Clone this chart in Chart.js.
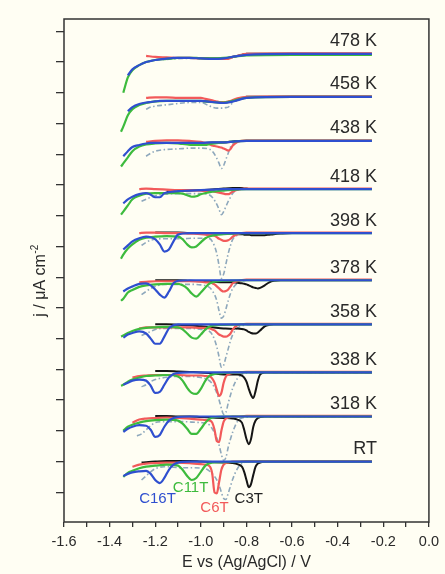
<!DOCTYPE html>
<html><head><meta charset="utf-8">
<script src="https://cdn.jsdelivr.net/npm/chart.js@4/dist/chart.umd.min.js"></script>
<style>html,body{margin:0;padding:0;background:#fffef3;}#wrap{width:445px;height:574px;position:relative;}</style>
</head><body><div id="wrap"><canvas id="c"></canvas></div>
<script>
// ---------- DATA ----------
const temperatures = ['RT','318 K','338 K','358 K','378 K','398 K','418 K','438 K','458 K','478 K'];
const offsets = [60,104,147,194,237,283,326,373,416,458]; // baseline of each stacked voltammogram
const xTickValues = [-1.6,-1.5,-1.4,-1.3,-1.2,-1.1,-1.0,-0.9,-0.8,-0.7,-0.6,-0.5,-0.4,-0.3,-0.2,-0.1,0.0];
const xTickLabels = ['-1.6','-1.4','-1.2','-1.0','-0.8','-0.6','-0.4','-0.2','0.0'];
const yTickValues = [30,60,90,120,150,180,210,240,270,300,330,360,390,420,450,480];

// C16T (blue)
const eC16T = [-1.34,-1.32,-1.30,-1.27,-1.24,-1.22,-1.20,-1.18,-1.16,-1.14,-1.12,-1.10,-1.05,-1.00,-0.95,-0.90,-0.85,-0.80,-0.60,-0.40,-0.25];
const jC16T = [
 [-14,-12,-10.5,-9.5,-9,-12,-18,-21,-16,-8,-3,-1,0,0,0,0,0,0,0,0,0],
 [-15,-12,-10,-8.5,-9,-13,-20,-18,-10,-4,-1.5,-0.5,0,0,0,0,0,0,0,0,0],
 [-12,-10,-8,-7,-8,-13,-20,-19,-12,-5,-1.5,-0.5,0,0,0,0,0,0,0,0,0],
 [-13,-10,-8.5,-7,-9,-14,-19,-19,-12,-4,-1,0,0,0,0,0,0,0,0,0,0],
 [-11,-8,-6,-3.5,-3,-5,-9,-14,-17,-11,-3,-0.5,0,0,0,0,0,0,0,0,0],
 [-16,-12,-8,-5,-3.5,-4,-6,-11,-18,-16,-8,-1.5,0,0,0,0,0,0,0,0,0],
 [-14,-10,-7.5,-5,-4,-5.5,-8,-8,-4,-3,-2.5,-2,-1.5,-1,-0.5,0,0,0,0,0,0],
 [-15,-10,-6,-4,-2.5,-2,-2,-2,-2,-2,-2,-2,-2,-2,-1.5,-1.5,-0.5,0,0,0,0],
 [null,-14,-10,-7,-5.5,-5,-4.5,-4,-4,-4,-4,-4,-4,-4,-5,-6,-4,-1,0,0,0],
 [null,-21,-15,-11,-8,-7,-6,-5.5,-5,-4.5,-4,-4,-4,-4.5,-5,-4.5,-2.5,-1,0,0,0]
];
// C11T (green)
const eC11T = [-1.35,-1.34,-1.32,-1.30,-1.27,-1.24,-1.20,-1.15,-1.10,-1.08,-1.06,-1.04,-1.02,-1.00,-0.98,-0.96,-0.90,-0.80,-0.60,-0.40,-0.25];
const jC11T = [
 [null,-15,-11,-9,-6.5,-5,-4,-3,-4,-8,-14,-18,-16,-10,-4,-1.5,-0.5,0,0,0,0],
 [null,-14,-10,-8,-6,-4.5,-3.5,-3,-4,-7,-12,-17,-17,-12,-6,-2,0,0,0,0,0],
 [-13,-12,-9,-7,-5,-3.5,-3,-2.5,-4,-8,-15,-20,-21,-16,-8,-3,-0.5,0,0,0,0],
 [-12,-11,-8.5,-6.5,-4.5,-3.5,-3,-2.5,-3,-5,-9,-13,-14,-10,-5,-2,-0.5,0,0,0,0],
 [-20,-18,-12,-9.5,-6.5,-5,-4,-3.5,-3.5,-5,-8,-13,-16,-12,-7,-3,-0.5,0,0,0,0],
 [-25,-21,-15,-11,-6.5,-4.5,-3.5,-3,-3.5,-6,-11,-14,-13,-9,-5,-3,-1,0,0,0,0],
 [-25,-22,-16,-10,-6.5,-4.5,-4,-4,-4,-4.5,-6,-7.5,-7,-5,-4,-3,-1.5,0,0,0,0],
 [-25,-22,-16,-10,-5.5,-3.5,-2.5,-2,-2.5,-3,-3.5,-4,-4,-4,-4,-3,-1.5,0,0,0,0],
 [-34,-29,-18,-12,-8,-6,-4.5,-4,-4,-4,-4,-4,-4,-4,-4.5,-5,-5.5,-1,0,0,0],
 [null,-38,-23,-16,-11,-8,-6,-5,-4,-4,-4,-4,-4,-4.5,-4.5,-4.5,-4,-1.5,-1,-1,-1]
];
// C6T (red)
const eC6T = [-1.30,-1.27,-1.24,-1.20,-1.15,-1.10,-1.05,-1.00,-0.98,-0.96,-0.95,-0.94,-0.93,-0.92,-0.91,-0.90,-0.89,-0.88,-0.87,-0.86,-0.84,-0.80,-0.60,-0.40,-0.25];
const jC6T = [
 [-5,-3,-2,-1.5,-1,-1,-1.5,-2.5,-3,-5,-12,-30,-31,-20,-8,-3,-1.5,-1,-0.5,0,0,0.5,0.5,0.5,0.5],
 [-6,-3,-2,-1.5,-1,-1.5,-2,-3,-3.5,-4,-6,-13,-24,-25,-14,-5,-2,-1,-0.5,0,0,0.5,0.5,0.5,0.5],
 [-5,-3.5,-3,-2.5,-2.5,-2.5,-3,-3,-3.5,-4,-6,-10,-17,-23,-20,-10,-4,-2,-1,-0.5,0,0.5,0.5,0.5,0.5],
 [null,-4,-3,-3,-3,-3,-3,-3.5,-3.5,-4,-5,-6,-8,-10,-11,-12,-12,-11,-9,-5,-1,0.5,0.5,0.5,0.5],
 [null,-2,-1.5,-1,-1,-1,-1,-1.5,-2,-2,-3,-4,-6,-8,-10,-11,-10.5,-9,-6,-3,-1,0.5,0.5,0.5,0.5],
 [null,0,0.5,0.5,0,0,-0.5,-1,-1.5,-2,-2,-2.5,-4,-5.5,-6.5,-7.5,-7.5,-7,-5.5,-3.5,-1,0.5,0.5,0.5,0.5],
 [null,0,0.5,0,-0.5,-1,-1,-1.5,-2,-2,-2,-2.5,-3,-3.5,-4,-4.5,-5,-5,-4,-2.5,-0.5,0.5,0.5,0.5,0.5],
 [null,null,-1,0,0.5,0.5,0,-1,-2,-3.5,-4.5,-5,-5.5,-6,-6.5,-7.5,-8.5,-9.5,-8,-4.5,-1,0.5,0.5,0.5,0.5],
 [null,null,-1,-0.5,-0.5,-1,-1,-1,-2,-3,-3.5,-4,-4.5,-5,-5,-5,-5,-4.5,-4,-3,-1.5,0,0.5,0.5,0.5],
 [null,null,-2,-3,-3.5,-4,-4,-4.5,-4.5,-5,-5,-5,-5,-5,-5,-5,-5,-5,-4,-3,-2,0,0.5,0.5,0.5]
];
// C3T (black)
const eC3T = [-1.26,-1.20,-1.15,-1.10,-1.05,-1.00,-0.95,-0.90,-0.86,-0.84,-0.82,-0.81,-0.80,-0.79,-0.78,-0.77,-0.76,-0.75,-0.74,-0.72,-0.70,-0.68,-0.65,-0.60,-0.50,-0.40,-0.25];
const jC3T = [
 [-1,0,0.5,0.5,0.5,0,-0.5,-1,-1.5,-2.5,-5,-10,-18,-25,-22,-13,-5,-2,-1,0,0,0,0,0,0,0,0],
 [null,0.5,0.5,0,0,-0.5,-1,-1.5,-2,-3,-6,-13,-22,-27,-22,-10,-4,-1.5,-0.5,0,0,0,0,0,0,0,0],
 [null,1.5,1.5,1,0.5,0,-1,-2,-2,-2,-3,-5,-9,-16,-22,-25,-18,-8,-2,0,0,0,0,0,0,0,0],
 [null,0,0,-0.5,-1,-2,-3,-4,-4.5,-4,-4.5,-5,-6,-7.5,-8.5,-9,-9,-8,-6,-2,-0.5,0,0,0,0,0,0],
 [null,0,0,0,-0.5,-1,-1.5,-2,-2,-2.5,-3,-3.5,-4,-5,-6,-7,-7.5,-8,-7.5,-5,-2,-0.5,0,0,0,0,0],
 [null,0.5,0.5,0.5,0,0,-0.5,-0.5,-0.5,-1,-1,-1.5,-1.5,-1.5,-2,-2,-2,-2,-2,-2,-1.5,-1,-0.5,0,0,0,0],
 [null,null,-2.5,-2,-1.5,-1,-0.5,0.5,1,1,1,0.5,0.5,0,0,0,0,0,0,0,0,0,0,0,0,0,0],
 [null,null,null,-2,-2,-2,-1.5,-1.5,-0.5,0,0,0,0,0,0,0,0,0,0,0,0,0,0,0,0,0,0],
 [null,null,null,-4,-4,-4,-4.5,-5.5,-4,-3,-1.5,-1,0,0,0,0,0,0,0,0,0,0,0,0,0,0,0],
 [null,null,null,-4,-4,-4,-4.5,-4.5,-3,-2,-1,-0.5,0,0,0,0,0,0,0,0,0,0,0,0,0,0,0]
];
// reference trace (grey dash-dot)
const eRef = [-1.28,-1.26,-1.24,-1.22,-1.20,-1.16,-1.12,-1.08,-1.04,-1.00,-0.97,-0.95,-0.93,-0.92,-0.91,-0.90,-0.89,-0.88,-0.87,-0.86,-0.84,-0.82,-0.80,-0.75,-0.70,-0.60,-0.50,-0.40,-0.25];
const jRef = [
 [null,-18,-14,-10,-7,-5,-5.5,-6,-6,-6.5,-8,-12,-18,-23,-30,-36,-37,-31,-24,-17,-7,-2,-0.5,0,0,0,0,0,0],
 [-19,-17,-13,-9,-6,-5,-5,-5,-5.5,-6,-7,-12,-21,-28,-37,-43,-40,-30,-22,-15,-5,-1.5,-0.5,0,0,0,0,0,0],
 [null,-14,-12,-9,-7,-5,-4,-4,-4,-5,-7,-11,-20,-27,-35,-41,-39,-30,-22,-15,-6,-2,-0.5,0,0,0,0,0,0],
 [null,-11,-9,-7,-5,-4,-4,-4,-4,-5,-6,-10,-22,-32,-42,-40,-32,-24,-16,-10,-4,-1.5,-0.5,0,0,0,0,0,0],
 [null,-14,-11,-8,-6,-4,-4,-4,-4,-4.5,-6,-10,-20,-30,-37,-35,-28,-20,-13,-8,-3,-1,0,0,0,0,0,0,0],
 [null,-12,-9,-7,-6,-5.5,-5.5,-5.5,-5,-5,-5,-8,-20,-32,-44,-40,-30,-20,-12,-6,-2,-0.5,0,0,0,0,0,0,0],
 [null,-12,-10,-8,-6.5,-5,-4.5,-4.5,-4.5,-4.5,-5,-8,-15,-20,-25,-22,-17,-12,-8,-4,-1,0,0,0,0,0,0,0,0],
 [null,null,-15,-12,-10,-8.5,-8,-7.5,-7,-7,-7.5,-10,-17,-22,-27,-24,-18,-12,-6,-3,-1,0,0,0,0,0,0,0,0],
 [null,null,-12,-10,-9,-8,-7,-6,-5.5,-5.5,-8,-10,-11,-11,-11,-11,-10.5,-10,-8,-5.5,-2.5,-1,0,0,0,0,0,0,0],
 [null,null,null,null,-6,-5.5,-5,-4.5,-4.5,-4.5,-5,-5,-5,-5,-5,-5,-5,-4.5,-4,-3.5,-2,-1,0,0,0,0,0,0,0]
];

// ---------- CHART ----------
const FONT = '"Liberation Sans", Arial, sans-serif';
const series = [
  {name:'C16T', e:eC16T, j:jC16T, color:'#2f4fcf', width:2.2, dash:[], order:1},
  {name:'C11T', e:eC11T, j:jC11T, color:'#3dbb3d', width:2.2, dash:[], order:2},
  {name:'C6T',  e:eC6T,  j:jC6T,  color:'#f25a5a', width:2.2, dash:[], order:3},
  {name:'C3T',  e:eC3T,  j:jC3T,  color:'#151515', width:2.0, dash:[], order:4},
  {name:'ref',  e:eRef,  j:jRef,  color:'#8ea8bc', width:1.6, dash:[5,2.5,1.5,2.5], order:5}
];
const datasets = [];
temperatures.forEach((t, ti) => {
  series.forEach(s => {
    datasets.push({
      label: s.name + ' ' + t,
      data: s.e.map((e, k) => ({x: e, y: s.j[ti][k] === null ? null : offsets[ti] + s.j[ti][k]})),
      borderColor: s.color, borderWidth: s.width, borderDash: s.dash,
      pointRadius: 0, fill: false, cubicInterpolationMode: 'monotone',
      spanGaps: false, order: s.order
    });
  });
});

const bgPlugin = {
  id: 'bg',
  beforeDraw(chart) {
    const c = chart.ctx; c.save(); c.fillStyle = '#fffef3';
    c.fillRect(0, 0, chart.width, chart.height); c.restore();
  }
};
const textPlugin = {
  id: 'texts',
  afterDraw(chart) {
    const c = chart.ctx, a = chart.chartArea, xs = chart.scales.x, ys = chart.scales.y;
    c.save();
    // frame
    c.strokeStyle = '#333'; c.lineWidth = 1.5;
    c.strokeRect(a.left, a.top, a.right - a.left, a.bottom - a.top);
    // temperature labels
    c.fillStyle = '#2a2a2a'; c.font = '18px ' + FONT;
    c.textAlign = 'right'; c.textBaseline = 'middle';
    temperatures.forEach((t, i) => {
      c.fillText(t, 377, ys.getPixelForValue(offsets[i]) - 12.5);
    });
    // series labels under RT
    const base = ys.getPixelForValue(offsets[0]);
    c.font = '15px ' + FONT; c.textAlign = 'center';
    [['C16T', -1.19, 37, '#2f4fcf'], ['C11T', -1.045, 26, '#3dbb3d'],
     ['C6T', -0.94, 46, '#f25a5a'], ['C3T', -0.79, 37, '#222']].forEach(([txt, e, dy, col]) => {
      c.fillStyle = col; c.fillText(txt, xs.getPixelForValue(e), base + dy);
    });
    // x title
    c.fillStyle = '#2a2a2a'; c.font = '16px ' + FONT;
    c.fillText('E vs (Ag/AgCl) / V', (a.left + a.right) / 2, 563);
    // y title
    c.translate(41, 281); c.rotate(-Math.PI / 2);
    c.font = '16px ' + FONT; c.textAlign = 'left';
    const main = 'j / μA cm';
    const w = c.measureText(main).width;
    c.font = '10px ' + FONT;
    const ws = c.measureText('-2').width;
    const x0 = -(w + ws) / 2;
    c.font = '16px ' + FONT; c.fillText(main, x0, 0);
    c.font = '10px ' + FONT; c.fillText('-2', x0 + w + 0.5, -6);
    c.restore();
  }
};

new Chart(document.getElementById('c'), {
  type: 'line',
  data: { datasets },
  options: {
    responsive: true, maintainAspectRatio: false, animation: false,
    layout: { padding: { top: 19, right: 13, left: 0, bottom: 0 } },
    plugins: { legend: { display: false }, tooltip: { enabled: false } },
    scales: {
      x: {
        type: 'linear', min: -1.6, max: 0,
        afterBuildTicks: s => { s.ticks = xTickValues.map(v => ({value: v})); },
        afterFit: s => { s.height = 52; },
        border: { display: false },
        grid: { drawOnChartArea: false, drawTicks: true, tickLength: 5, color: '#333', lineWidth: 1.3 },
        ticks: {
          autoSkip: false, maxRotation: 0, minRotation: 0, padding: 6, color: '#2a2a2a',
          font: { family: FONT, size: 14.5 },
          callback: (v, i) => (i % 2 === 0 ? xTickLabels[i / 2] : '')
        }
      },
      y: {
        type: 'linear', min: 1, max: 492,
        afterBuildTicks: s => { s.ticks = yTickValues.map(v => ({value: v})); },
        afterFit: s => { s.width = 64; },
        border: { display: false },
        grid: { drawOnChartArea: false, drawTicks: true, tickLength: 8, color: '#333', lineWidth: 1.3 },
        ticks: { display: false }
      }
    }
  },
  plugins: [bgPlugin, textPlugin]
});
</script></body></html>
